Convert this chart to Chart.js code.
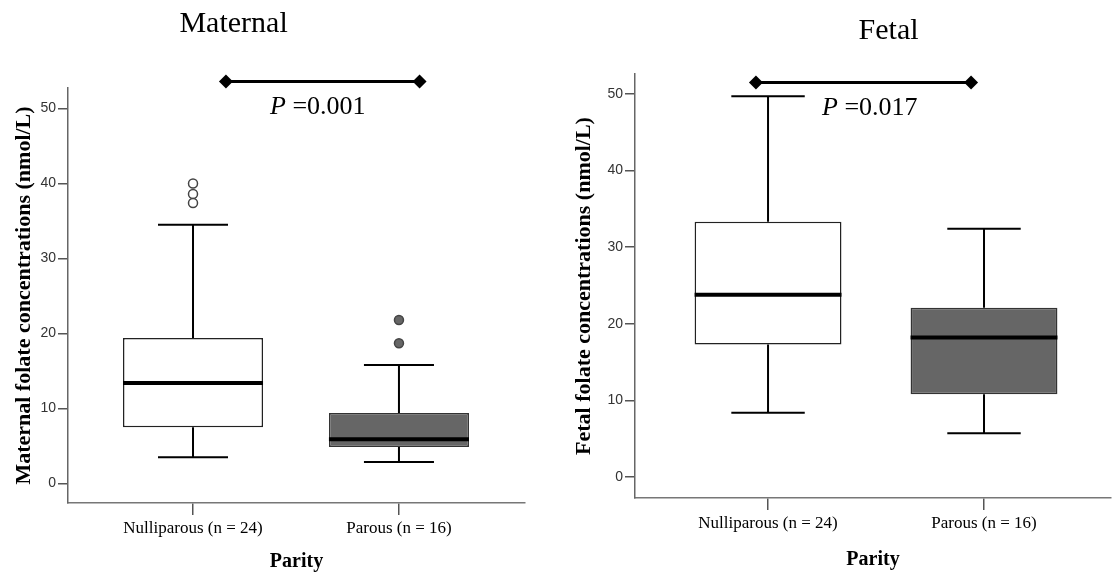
<!DOCTYPE html>
<html>
<head>
<meta charset="utf-8">
<script src="https://cdn.jsdelivr.net/npm/chart.js@4.4.0/dist/chart.umd.min.js"></script>
<style>
  body { margin: 0; background: #fff; }
  .panel { position: absolute; top: 0; width: 556px; height: 580px; }
</style>
</head>
<body>
<div class="panel" style="left:0"><canvas id="maternal"></canvas></div>
<div class="panel" style="left:556px"><canvas id="fetal"></canvas></div>
<script>
// categories and ticks
const groups = ['Nulliparous (n = 24)', 'Parous (n = 16)'];
const yTicks = [0, 10, 20, 30, 40, 50];

// maternal folate (nmol/L)
const matLow = [3.5, 2.85];
const matQ1 = [7.5, 4.85];
const matMedian = [13.4, 5.9];
const matQ3 = [19.4, 9.4];
const matHigh = [34.5, 15.8];
const matOutNulli = [40.0, 38.6, 37.4];
const matOutParous = [21.8, 18.7];
const matP = 'P =0.001';

// fetal folate (nmol/L)
const fetLow = [8.4, 5.7];
const fetQ1 = [17.3, 10.8];
const fetMedian = [23.8, 18.2];
const fetQ3 = [33.3, 22.1];
const fetHigh = [49.7, 32.4];
const fetP = 'P =0.017';

const boxFrac = 0.68;   // box width as share of group spacing
const capHalf = 0.17;   // half width of whisker caps

const serif = '"Liberation Serif", "Times New Roman", serif';

// titles and the P value bracket text
const notes = {
  id: 'notes',
  afterDraw(chart, args, o) {
    const ctx = chart.ctx, x = chart.scales.x, y = chart.scales.y;
    ctx.save();
    ctx.fillStyle = '#000';
    ctx.textBaseline = 'alphabetic';
    ctx.font = '30px ' + serif;
    ctx.textAlign = 'center';
    ctx.fillText(o.title, x.getPixelForValue(o.titleAt), o.titleBase);

    ctx.textAlign = 'left';
    let px = x.getPixelForValue(o.pAt);
    const py = y.getPixelForValue(o.barY) + 33;
    ctx.font = 'italic 26px ' + serif;
    ctx.fillText('P', px, py);
    px += ctx.measureText('P ').width;
    ctx.font = '26px ' + serif;
    ctx.fillText(o.pText.slice(2), px, py);
    ctx.restore();
  }
};

function segs(fn) {
  return groups.flatMap((g, i) => fn(i).flatMap(s => [...s, {x: i, y: null}]));
}

function noPadding(s) {
  s.paddingLeft = s.paddingRight = s.paddingTop = s.paddingBottom = 0;
}

function boxChart(id, d) {
  const datasets = [
    {
      type: 'line', order: 0, clip: false,
      data: d.bar.map(v => ({x: v, y: d.barY})),
      borderColor: '#000', borderWidth: 3,
      pointStyle: 'rectRot', pointRadius: 7,
      pointBackgroundColor: '#000', pointBorderColor: '#000', pointBorderWidth: 0
    },
    {
      type: 'line', order: 1,
      data: segs(i => [[{x: i - boxFrac / 2, y: d.median[i]}, {x: i + boxFrac / 2, y: d.median[i]}]]),
      borderColor: '#000', borderWidth: 4, pointRadius: 0, spanGaps: false
    },
    {
      type: 'line', order: 2,
      data: segs(i => [
        [{x: i - capHalf, y: d.high[i]}, {x: i + capHalf, y: d.high[i]}],
        [{x: i, y: d.high[i]}, {x: i, y: d.q3[i]}],
        [{x: i, y: d.q1[i]}, {x: i, y: d.low[i]}],
        [{x: i - capHalf, y: d.low[i]}, {x: i + capHalf, y: d.low[i]}]
      ]),
      borderColor: '#000', borderWidth: 2, pointRadius: 0, spanGaps: false
    },
    {
      type: 'bar', order: 5,
      data: groups.map((g, i) => ({x: i, y: [d.q1[i], d.q3[i]]})),
      backgroundColor: ['#ffffff', '#666666'],
      borderColor: ['#222222', '#333333'],
      borderWidth: 1.5, borderSkipped: false,
      categoryPercentage: 0.8, barPercentage: boxFrac / 0.8
    }
  ];
  (d.outliers || []).forEach(o => datasets.push({
    type: 'scatter', order: 0,
    data: o.values.map(v => ({x: o.group, y: v})),
    pointRadius: 4.5, pointBorderWidth: 1.5,
    pointBackgroundColor: o.fill, pointBorderColor: o.stroke
  }));

  return new Chart(document.getElementById(id), {
    type: 'bar',
    data: { datasets },
    options: {
      responsive: true,
      maintainAspectRatio: false,
      animation: false,
      layout: { padding: d.pad, autoPadding: false },
      plugins: {
        legend: { display: false },
        tooltip: { enabled: false },
        notes: { title: d.title, titleAt: d.titleAt, titleBase: d.titleBase, pAt: d.pAt, pText: d.pText, barY: d.barY }
      },
      scales: {
        x: {
          type: 'linear', min: d.xMin, max: d.xMax, offset: false,
          afterBuildTicks: s => { s.ticks = groups.map((g, i) => ({value: i})); },
          afterFit: s => { s.height = d.xHeight; noPadding(s); },
          ticks: { callback: v => groups[v], color: '#000', padding: 3, maxRotation: 0, autoSkip: false,
                   font: { family: serif, size: 17 } },
          grid: { offset: false, drawOnChartArea: false, tickLength: 12, color: '#555', lineWidth: 1.5 },
          border: { color: '#777', width: 1.5 },
          title: { display: true, text: 'Parity', color: '#000',
                   font: { family: serif, size: 20, weight: 'bold' }, padding: { top: 0, bottom: d.xTitlePad } }
        },
        y: {
          min: d.yMin, max: d.yMax,
          afterBuildTicks: s => { s.ticks = yTicks.map(v => ({value: v})); },
          afterFit: s => { s.width = d.yWidth; noPadding(s); },
          ticks: { color: '#333', padding: 2, font: { family: '"Liberation Sans", Arial, sans-serif', size: 14 } },
          grid: { drawOnChartArea: false, tickLength: 10, color: '#555', lineWidth: 1.5 },
          border: { color: '#666', width: 1.5 },
          title: { display: true, text: d.yTitle, color: '#000',
                   font: { family: serif, size: 22, weight: 'bold' }, padding: { top: d.yTitlePad, bottom: 0 } }
        }
      }
    },
    plugins: [notes]
  });
}

boxChart('maternal', {
  low: matLow, q1: matQ1, median: matMedian, q3: matQ3, high: matHigh,
  outliers: [
    { group: 0, values: matOutNulli, fill: '#ffffff', stroke: '#444444' },
    { group: 1, values: matOutParous, fill: '#666666', stroke: '#444444' }
  ],
  bar: [0.16, 1.10], barY: 53.6,
  title: 'Maternal', titleAt: 0.197, titleBase: 32,
  pText: matP, pAt: 0.374,
  yTitle: 'Maternal folate concentrations (nmol/L)',
  xMin: -0.607, xMax: 1.612, yMin: -2.6, yMax: 52.73,
  pad: { left: 0, right: 31, top: 88, bottom: 0 },
  yWidth: 68, yTitlePad: 11, xHeight: 77, xTitlePad: 6
});

boxChart('fetal', {
  low: fetLow, q1: fetQ1, median: fetMedian, q3: fetQ3, high: fetHigh,
  bar: [-0.056, 0.94], barY: 51.5,
  title: 'Fetal', titleAt: 0.558, titleBase: 39,
  pText: fetP, pAt: 0.25,
  yTitle: 'Fetal folate concentrations (nmol/L)',
  xMin: -0.616, xMax: 1.588, yMin: -2.74, yMax: 52.6,
  pad: { left: 0, right: 1, top: 74, bottom: 0 },
  yWidth: 79, yTitlePad: 15, xHeight: 82, xTitlePad: 8
});
</script>
</body>
</html>
